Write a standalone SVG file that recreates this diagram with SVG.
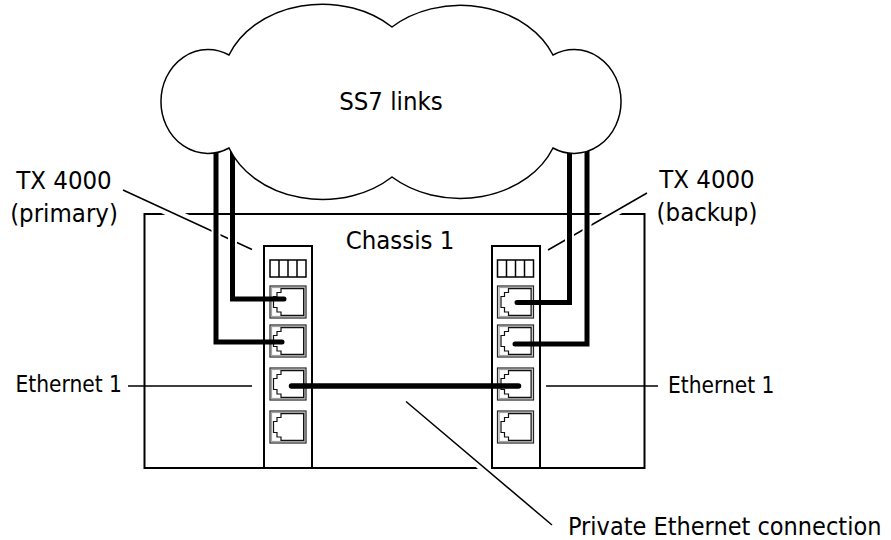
<svg xmlns="http://www.w3.org/2000/svg" width="891" height="540" viewBox="0 0 891 540">
<style>
text { font-family: 'DejaVu Sans Condensed', 'DejaVu Sans', sans-serif; fill: #000; }
.lbl { font-size: 25.5px; }
.eth { font-size: 22.5px; }
.frame { fill: none; stroke: #000; stroke-width: 2; }
.leader { fill: none; stroke: #000; stroke-width: 1.5; }
.halo { fill: none; stroke: #fff; stroke-width: 10; }
.cable { fill: none; stroke: #000; stroke-width: 5; stroke-linecap: round; stroke-linejoin: miter; }
.chalo { fill: none; stroke: #fff; stroke-width: 9; }
.cloud { fill: #fff; stroke: #000; stroke-width: 1.5; }
.blk { fill: none; stroke: #000; stroke-width: 1.5; }
</style>
<defs>
  <g id="port">
    <rect x="0" y="0" width="36" height="32" fill="#fff" stroke="#222" stroke-width="1.2"/>
    <rect x="1.6" y="1.6" width="32.8" height="28.8" fill="none" stroke="#999" stroke-width="1"/>
    <path d="M11 2.6 H33.6 V29.4 H11 V26 H7 V21.5 H3.5 V10.5 H7 V6.5 H11 Z" fill="#fff" stroke="#111" stroke-width="1.2"/>
  </g>
  <g id="block">
    <rect x="0" y="0" width="36" height="17" class="blk"/>
    <path d="M9 0 V17 M18 0 V17 M27 0 V17" class="blk"/>
  </g>
</defs>

<g id="chassis">
  <rect class="frame" x="144.5" y="214" width="500" height="254"/>
  <text class="lbl" x="400" y="249" text-anchor="middle">Chassis 1</text>
</g>

<g id="leaders">
  <path class="halo" d="M123 190 L252 249.5 M647 193 L548 250 M406 401.5 L552 525"/>
  <path class="leader" d="M123 190 L252 249.5 M647 193 L548 250 M406 401.5 L552 525"/>
  <path class="leader" d="M128 386 H252 M546 386 H658"/>
</g>

<g id="tx-primary">
  <rect class="frame" x="264" y="246" width="48" height="222"/>
  <use href="#block" x="270" y="260"/>
  <use href="#port" x="270" y="286"/>
  <use href="#port" x="270" y="325"/>
  <use href="#port" x="270" y="368"/>
  <use href="#port" x="270" y="411"/>
</g>

<g id="tx-backup">
  <rect class="frame" x="492" y="246" width="48" height="222"/>
  <use href="#block" x="497.5" y="260"/>
  <use href="#port" x="497.5" y="286"/>
  <use href="#port" x="497.5" y="325"/>
  <use href="#port" x="497.5" y="368"/>
  <use href="#port" x="497.5" y="411"/>
</g>

<g id="connectors">
  <path class="chalo" d="M216 222 V252 M232.5 222 V258 M569.5 222 V252 M587 218 V244"/>
  <path class="cable" d="M232.5 140 V299 H284"/>
  <path class="cable" d="M216 140 V342 H282"/>
  <path class="cable" d="M569.5 140 V302.5 H517"/>
  <path class="cable" d="M587 140 V344 H515"/>
  <path class="cable" style="stroke-width:5.5" d="M291.5 386 H518.5"/>
</g>

<g id="cloud">
  <path class="cloud" d="M229 55 A100 80 0 0 1 392 27 A100 80 0 0 1 553 55 A47 52 0 1 1 553 148 A100 80 0 0 1 392 177 A100 80 0 0 1 229 148 A47 52 0 1 1 229 55 Z"/>
  <text class="lbl" x="391" y="110" text-anchor="middle">SS7 links</text>
</g>

<g id="labels">
  <text class="lbl" x="64" y="189" text-anchor="middle">TX 4000</text>
  <text class="lbl" x="64" y="221.5" text-anchor="middle">(primary)</text>
  <text class="lbl" x="707" y="188" text-anchor="middle">TX 4000</text>
  <text class="lbl" x="707" y="221" text-anchor="middle">(backup)</text>
  <text class="eth" x="122" y="392" text-anchor="end">Ethernet 1</text>
  <text class="eth" x="668" y="393">Ethernet 1</text>
  <text class="lbl" style="font-size:25px" x="568" y="535">Private Ethernet connection</text>
</g>
</svg>
